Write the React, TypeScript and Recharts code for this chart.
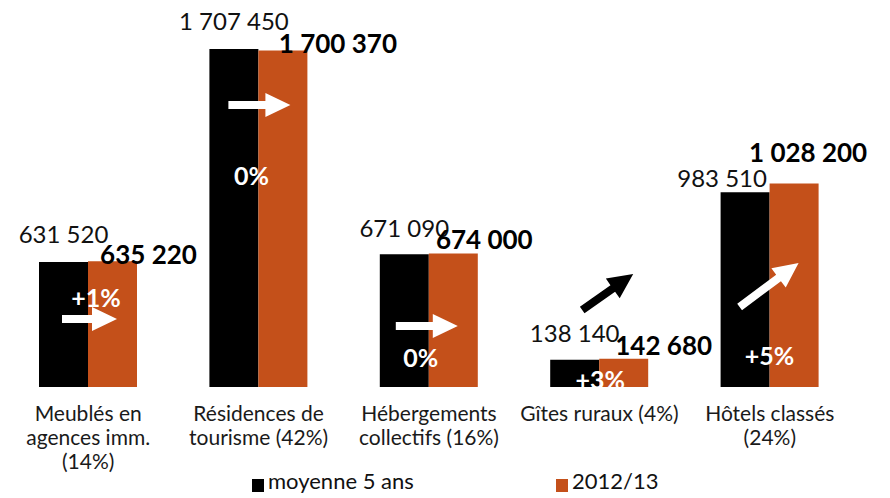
import React from 'react';
import { BarChart, Bar, XAxis, YAxis, Legend, LabelList } from 'recharts';

// catégories d'hébergement (libellés sur plusieurs lignes)
const categories = [
    'Meublés en agences imm. (14%)',
    'Résidences de tourisme (42%)',
    'Hébergements collectifs (16%)',
    'Gîtes ruraux (4%)',
    'Hôtels classés (24%)',
];
const categoryLines = [
    ['Meublés en', 'agences imm.', '(14%)'],
    ['Résidences de', 'tourisme (42%)'],
    ['Hébergements', 'collectifs (16%)'],
    ['Gîtes ruraux (4%)'],
    ['Hôtels classés', '(24%)'],
];
const moyenne5Ans = [631520, 1707450, 671090, 138140, 983510];
const saison2012 = [635220, 1700370, 674000, 142680, 1028200];
const evolution = ['+1%', '0%', '0%', '+3%', '+5%'];

const BLACK = '#000000';
const ORANGE = '#C4501A';
const FONT = 'Lato, "DejaVu Sans", sans-serif';

// placement manuel des étiquettes (px), comme dans l'original
const blackLabelShift = [[0, -19], [0, -19], [0, -17], [0, -18], [-23, -5]];
const orangeLabelShift = [[36, 3], [55, 3], [31, -5], [40, -4], [14, -21]];
const pctPos = [[8, -80], [-7, -202], [-8, -20], [1, 2], [0, -22]];
const arrowPos = [
    [-26, -68, 29, -68],
    [-30, -282, 32, -282],
    [-33, -61, 29, -61],
    [-17, -77, 34, -113],
    [-30, -80, 29, -124],
];
const arrowColor = ['#fff', '#fff', '#fff', '#000', '#fff'];

const data = categories.map((name, i) => ({
    name,
    moyenne: moyenne5Ans[i],
    saison: saison2012[i],
}));

const fmt = (n: number) => String(n).replace(/\B(?=(\d{3})+(?!\d))/g, ' ');

const box = (p: any) => {
    const vb = p.viewBox || {};
    return {
        x: Number(p.x ?? vb.x),
        y: Number(p.y ?? vb.y),
        width: Number(p.width ?? vb.width),
        height: Number(p.height ?? vb.height),
    };
};

const BlackValue = (props: any) => {
    const { x, y, width } = box(props);
    const i = props.index;
    const [dx, dy] = blackLabelShift[i];
    return (
        <text x={x + width / 2 + dx} y={y + dy} textAnchor="middle" fontSize={24} fill="#111" fontFamily={FONT}>
            {fmt(moyenne5Ans[i])}
        </text>
    );
};

const OrangeValue = (props: any) => {
    const { x, y, width } = box(props);
    const i = props.index;
    const [dx, dy] = orangeLabelShift[i];
    return (
        <text x={x + width / 2 + dx} y={y + dy} textAnchor="middle" fontSize={26} fontWeight={700} fill="#000" fontFamily={FONT}>
            {fmt(saison2012[i])}
        </text>
    );
};

const arrowPoints = (x1: number, y1: number, x2: number, y2: number) => {
    const len = Math.hypot(x2 - x1, y2 - y1);
    const ux = (x2 - x1) / len;
    const uy = (y2 - y1) / len;
    const nx = -uy;
    const ny = ux;
    const head = 25, shaft = 4, wing = 12;
    const bx = x2 - ux * head;
    const by = y2 - uy * head;
    const pts = [
        [x1 + nx * shaft, y1 + ny * shaft],
        [bx + nx * shaft, by + ny * shaft],
        [bx + nx * wing, by + ny * wing],
        [x2, y2],
        [bx - nx * wing, by - ny * wing],
        [bx - nx * shaft, by - ny * shaft],
        [x1 - nx * shaft, y1 - ny * shaft],
    ];
    return pts.map(p => p.join(',')).join(' ');
};

// flèche + variation, ancrées au centre du groupe et à la base des barres
const Annotation = (props: any) => {
    const { x, y, height } = box(props);
    const i = props.index;
    const cx = x;
    const base = y + height;
    const [ax1, ay1, ax2, ay2] = arrowPos[i];
    const [px, py] = pctPos[i];
    return (
        <g>
            <polygon points={arrowPoints(cx + ax1, base + ay1, cx + ax2, base + ay2)} fill={arrowColor[i]} />
            <text x={cx + px} y={base + py} textAnchor="middle" fontSize={25} fontWeight={700} fill="#fff" fontFamily={FONT}>
                {evolution[i]}
            </text>
        </g>
    );
};

const CategoryTick = (props: any) => {
    const { x, y, index } = props;
    const lines = categoryLines[index] || [];
    return (
        <text x={x} y={y} textAnchor="middle" fontSize={21} fill="#1a1a1a" fontFamily={FONT}>
            {lines.map((l, k) => (
                <tspan key={k} x={x} y={y + 34 + k * 24}>{l}</tspan>
            ))}
        </text>
    );
};

const LegendContent = () => (
    <div style={{ position: 'relative', width: 890, height: 30, fontFamily: FONT, fontSize: 22, color: '#111' }}>
        <span style={{ position: 'absolute', left: 252, top: 11, width: 12, height: 13, background: BLACK }} />
        <span style={{ position: 'absolute', left: 268, top: 0, lineHeight: '26px' }}>moyenne 5 ans</span>
        <span style={{ position: 'absolute', left: 556, top: 11, width: 12, height: 13, background: ORANGE }} />
        <span style={{ position: 'absolute', left: 572, top: 0, lineHeight: '26px' }}>2012/13</span>
    </div>
);

export default function App() {
    return (
        <div style={{ position: 'absolute', left: 0, top: 0, width: 890, height: 498, background: '#fff' }}>
            <BarChart
                width={890}
                height={498}
                data={data}
                margin={{ top: 49, right: 35, left: 3, bottom: 0 }}
                barSize={49}
                barGap={0}
            >
                <XAxis
                    dataKey="name"
                    axisLine={false}
                    tickLine={false}
                    tickSize={0}
                    tickMargin={0}
                    interval={0}
                    height={81}
                    tick={<CategoryTick />}
                />
                <YAxis hide domain={[0, 1707450]} allowDataOverflow />
                <Legend
                    verticalAlign="bottom"
                    content={<LegendContent />}
                    wrapperStyle={{ left: 0, width: 890, height: 30 }}
                />
                <Bar dataKey="moyenne" name="moyenne 5 ans" fill={BLACK} isAnimationActive={false}>
                    <LabelList dataKey="moyenne" content={<BlackValue />} />
                </Bar>
                <Bar dataKey="saison" name="2012/13" fill={ORANGE} isAnimationActive={false}>
                    <LabelList dataKey="saison" content={<OrangeValue />} />
                    <LabelList dataKey="saison" content={<Annotation />} />
                </Bar>
            </BarChart>
        </div>
    );
}
